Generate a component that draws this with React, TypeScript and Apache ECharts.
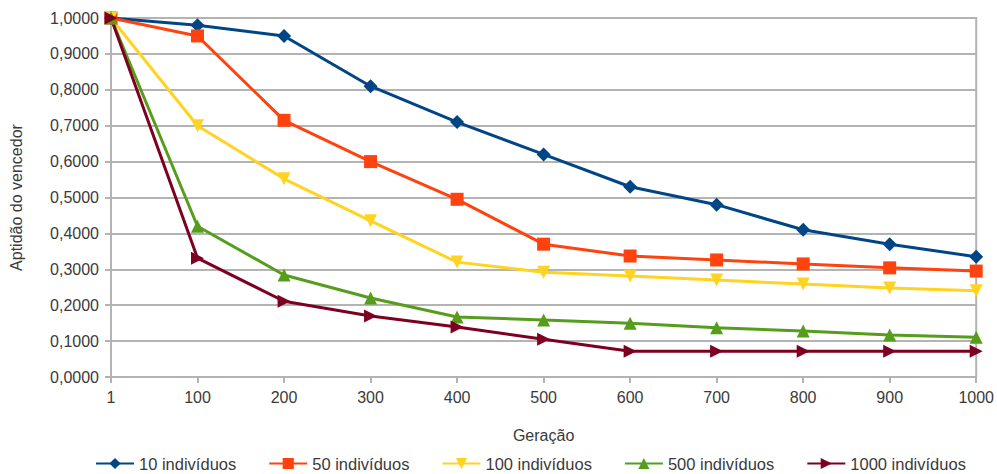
import React, { useEffect, useRef } from "react";
import * as echarts from "echarts";

const categories = ["1", "100", "200", "300", "400", "500", "600", "700", "800", "900", "1000"];
const s10 = [1.0, 0.98, 0.95, 0.81, 0.71, 0.62, 0.53, 0.48, 0.41, 0.37, 0.335];
const s50 = [1.0, 0.95, 0.715, 0.6, 0.495, 0.37, 0.337, 0.326, 0.315, 0.304, 0.295];
const s100 = [1.0, 0.7, 0.552, 0.435, 0.32, 0.292, 0.281, 0.27, 0.259, 0.248, 0.24];
const s500 = [1.0, 0.42, 0.284, 0.22, 0.167, 0.159, 0.15, 0.137, 0.128, 0.117, 0.111];
const s1000 = [1.0, 0.331, 0.211, 0.17, 0.139, 0.105, 0.072, 0.072, 0.072, 0.072, 0.072];
const seriesNames = ["10 indivíduos", "50 indivíduos", "100 indivíduos", "500 indivíduos", "1000 indivíduos"];

export default function App() {
  const ref = useRef<HTMLDivElement>(null);
  useEffect(() => {
    const chart = echarts.init(ref.current!, null, { renderer: "svg" });
    const font = "'Liberation Sans', Arial, sans-serif";
    const txt = "#3a3a3a";
    const mk = (name: string, data: number[], color: string, symbol: string, rotate: number, size: number) => ({
      name,
      type: "line",
      data,
      symbol,
      symbolRotate: rotate,
      symbolSize: size,
      lineStyle: { color, width: 3 },
      itemStyle: { color },
      emphasis: { disabled: true },
    });
    chart.setOption({
      animation: false,
      backgroundColor: "#ffffff",
      textStyle: { fontFamily: font },
      grid: {
        left: 107,
        right: 12,
        top: 18,
        bottom: 97,
        show: true,
        borderColor: "#b3b3b3",
        borderWidth: 2,
      },
      legend: {
        top: 450,
        left: 90,
        itemWidth: 38,
        itemHeight: 14,
        itemGap: 32,
        textStyle: { fontSize: 16.5, color: txt, fontFamily: font },
        data: seriesNames,
      },
      xAxis: {
        type: "category",
        data: categories,
        boundaryGap: false,
        name: "Geração",
        nameLocation: "middle",
        nameGap: 50,
        nameTextStyle: { fontSize: 16, color: txt, fontFamily: font },
        axisLine: { lineStyle: { color: "#b3b3b3", width: 2 } },
        axisTick: { show: true, length: 6, lineStyle: { color: "#b3b3b3", width: 2 } },
        axisLabel: { fontSize: 16, color: txt, margin: 12, fontFamily: font },
        splitLine: { show: false },
      },
      yAxis: {
        type: "value",
        min: 0,
        max: 1,
        interval: 0.1,
        name: "Aptidão do vencedor",
        nameLocation: "middle",
        nameGap: 87,
        nameTextStyle: { fontSize: 16, color: txt, fontFamily: font },
        axisLine: { show: true, lineStyle: { color: "#b3b3b3", width: 2 } },
        axisTick: { show: true, length: 6, lineStyle: { color: "#b3b3b3", width: 2 } },
        axisLabel: {
          fontSize: 16,
          color: txt,
          margin: 12,
          fontFamily: font,
          formatter: (v: number) => v.toFixed(4).replace(".", ","),
        },
        splitLine: { lineStyle: { color: "#b3b3b3", width: 2 } },
      },
      series: [
        mk(seriesNames[0], s10, "#004586", "diamond", 0, 14),
        mk(seriesNames[1], s50, "#ff420e", "rect", 0, 13),
        mk(seriesNames[2], s100, "#ffd320", "triangle", 180, 13),
        mk(seriesNames[3], s500, "#579d1c", "triangle", 0, 13),
        mk(seriesNames[4], s1000, "#7e0021", "triangle", -90, 13),
      ],
    });
    return () => chart.dispose();
  }, []);
  return <div ref={ref} style={{ width: 997, height: 474, position: "absolute", left: 0, top: 0 }} />;
}
